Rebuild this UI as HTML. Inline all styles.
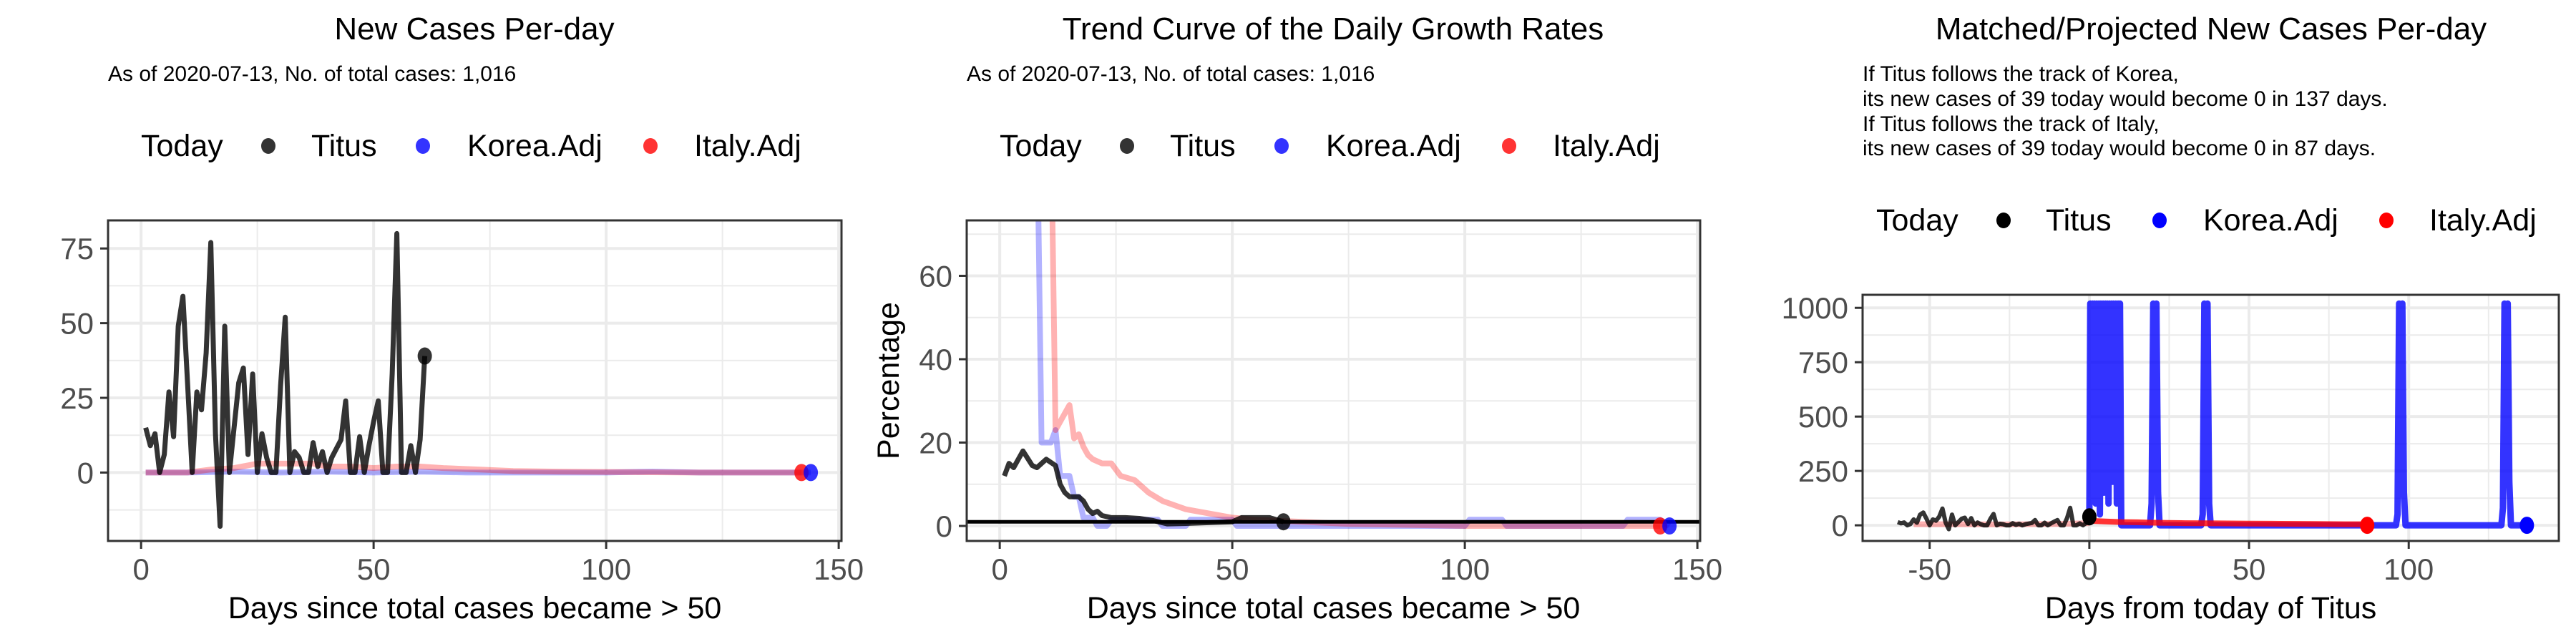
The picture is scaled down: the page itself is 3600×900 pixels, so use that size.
<!DOCTYPE html>
<html><head><meta charset="utf-8"><style>
html,body{margin:0;padding:0;background:#fff;}
svg{display:block;font-family:"Liberation Sans",Arial,sans-serif;}
</style></head><body>
<svg id="chart" width="3600" height="900" viewBox="0 0 3600 900" xmlns="http://www.w3.org/2000/svg">
<defs>
<clipPath id="c1"><rect x="151" y="308" width="1025" height="448"/></clipPath>
<clipPath id="c2"><rect x="1351" y="308" width="1025" height="448"/></clipPath>
<clipPath id="c3"><rect x="2603" y="412" width="973" height="344"/></clipPath>
</defs>
<text x="663" y="55" font-size="44" text-anchor="middle">New Cases Per-day</text>
<text x="151" y="113" font-size="30">As of 2020-07-13, No. of total cases: 1,016</text>
<text x="1863" y="55" font-size="44" text-anchor="middle">Trend Curve of the Daily Growth Rates</text>
<text x="1351" y="113" font-size="30">As of 2020-07-13, No. of total cases: 1,016</text>
<text x="3090" y="55" font-size="44" text-anchor="middle">Matched/Projected New Cases Per-day</text>
<g font-size="30">
<text x="2603" y="113">If Titus follows the track of Korea,</text>
<text x="2603" y="148">its new cases of 39 today would become 0 in 137 days.</text>
<text x="2603" y="183">If Titus follows the track of Italy,</text>
<text x="2603" y="217">its new cases of 39 today would become 0 in 87 days.</text>
</g>
<g id="layer"></g>
</svg>
<script>
// ---------- data ----------
const titusNew = [15,9,13,0,6,27,12,49,59,30,0,27,21,40,77,13,-18,49,0,15,30,35,6,33,0,13,5,0,0,29,52,0,7,5,0,0,10,2,7,0,5,8,11,24,0,0,12,0,9,17,24,0,0,33,80,0,0,9,0,11,39];
const koreaAdjDays = [1,10,20,30,40,50,60,70,80,90,100,110,120,130,144];
const koreaAdjVals = [0,0,0.3,0,0.3,0,0.3,0,0,0,0,0.3,0,0,0];
const italyAdjDays = [1,10,15,20,25,30,37,40,45,50,55,60,65,73,80,90,100,120,142];
const italyAdjVals = [0,0,1,1.5,3,3,3,2,2,1.5,2,2,1.5,1,0.5,0.3,0.2,0,0];

const titusRateDays = [1,2,3,5,7,8,10,12,13,14,15,17,18,19,20,21,22,24,27,30,33,36,40,45,50,52,55,58,61];
const titusRateVals = [12,15,14,18,14.5,14,16,14.5,10,8,7,7,6,4,3,3.5,2.5,2,2,1.8,1.3,0.5,0.6,0.8,1,2,2,2,1];
const koreaRateDays = [1,8,9,11,12,13,15,16,17,18,20,21,23,24,34,35,40,41,50,51,100,101,108,109,134,135,142,144];
const koreaRateVals = [100,100,20,20,23,12,12,7,7,2,2,0,0,1.5,1.5,0,0,1.5,1.5,0,0,1.5,1.5,0,0,1.5,1.5,0];
const italyRateDays = [1,11,12,15,16,17,18,19,20,22,24,26,29,32,35,40,45,50,55,65,75,100,142];
const italyRateVals = [100,100,23,29,21,22,19,17,16,15,15,12,11,8,6,4,3,2,1.5,1,0.5,0,0];
const refRate = 1;

const koreaProjDays = [0,0.3,0.6,1,1.3,1.6,2,2.3,2.6,3,3.3,3.6,4,4.3,4.6,5,5.3,5.6,6,6.3,6.6,7,7.3,7.6,8,8.3,8.6,9,9.3,9.6,10,11,19,19.5,20,20.5,21,21.5,22,23,35,35.5,36,36.5,37,37.5,38,39,96,96.5,97,97.5,98,98.5,99,100,129,129.5,130,130.5,131,131.5,132,133,137];
const koreaProjVals = [30,1020,150,1020,300,1020,100,1020,200,1020,50,1020,400,1020,150,1020,600,1020,100,1020,300,1020,200,1020,700,1020,100,1020,250,1020,0,0,0,100,1020,200,1020,150,0,0,0,50,1020,300,1020,100,0,0,0,50,1020,250,1020,150,0,0,0,80,1020,250,1020,200,0,0,0];
const italyProjDays = [0,1,5,10,15,20,30,40,50,60,70,80,86,87];
const italyProjVals = [35,20,18,15,14,12,10,9,8,7,6,5,5,0];
const italyHistDays = [-55,-40,-30,-20,-10,0];
const italyHistVals = [5,5,4,5,6,10];

const xTicks12 = [0,50,100,150];
const yTicks1 = [0,25,50,75];
const yTicks2 = [0,20,40,60];
const xTicks3 = [-50,0,50,100];
const yTicks3 = [0,250,500,750,1000];

// ---------- helpers ----------
const NS = "http://www.w3.org/2000/svg";
const layer = document.getElementById('layer');
function mk(tag, attrs, parent) {
  const e = document.createElementNS(NS, tag);
  for (const k in attrs) e.setAttribute(k, attrs[k]);
  (parent || layer).appendChild(e);
  return e;
}
function scale(d0, d1, r0, r1) { return v => r0 + (v - d0) / (d1 - d0) * (r1 - r0); }

function panel(p) {
  const g = mk('g', {});
  
  
  const sx = scale(p.xd[0], p.xd[1], p.L, p.R);
  const sy = scale(p.yd[0], p.yd[1], p.B, p.T);
  p.xMinor.forEach(v => { const l = mk('line', {x1: sx(v), x2: sx(v), y1: p.T, y2: p.B, stroke: '#EBEBEB', 'stroke-width': 2}, g);   });
  p.yMinor.forEach(v => { const l = mk('line', {x1: p.L, x2: p.R, y1: sy(v), y2: sy(v), stroke: '#EBEBEB', 'stroke-width': 2}, g);   });
  p.xTicks.forEach(v => {
    const l = mk('line', {x1: sx(v), x2: sx(v), y1: p.T, y2: p.B, stroke: '#EBEBEB', 'stroke-width': 4}, g);
     
    const t = mk('line', {x1: sx(v), x2: sx(v), y1: p.B, y2: p.B + 11, stroke: '#333', 'stroke-width': 3}, g);
     
    const tx = mk('text', {x: sx(v), y: p.B + 54, 'font-size': 42, fill: '#4D4D4D', 'text-anchor': 'middle'}, g);
    tx.textContent = v;
     
  });
  p.yTicks.forEach(v => {
    const l = mk('line', {x1: p.L, x2: p.R, y1: sy(v), y2: sy(v), stroke: '#EBEBEB', 'stroke-width': 4}, g);
     
    const t = mk('line', {x1: p.L - 11, x2: p.L, y1: sy(v), y2: sy(v), stroke: '#333', 'stroke-width': 3}, g);
     
    const tx = mk('text', {x: p.L - 20, y: sy(v) + 15, 'font-size': 42, fill: '#4D4D4D', 'text-anchor': 'end'}, g);
    tx.textContent = v;
     
  });
  const cg = mk('g', {'clip-path': 'url(#' + p.clip + ')'}, g);
   
  p.series.forEach(s => {
    const d = s.xs.map((x, i) => (i ? 'L' : 'M') + sx(x).toFixed(1) + ',' + sy(s.ys[i]).toFixed(1)).join('');
    const path = mk('path', {d: d, fill: 'none', stroke: s.color, 'stroke-opacity': s.op, 'stroke-width': s.w, 'stroke-linejoin': 'round'}, cg);
    
    
  });
  if (p.hline !== undefined) {
    const h = mk('line', {x1: p.L, x2: p.R, y1: sy(p.hline), y2: sy(p.hline), stroke: '#000', 'stroke-width': 5}, cg);
     
  }
  p.dots.forEach(dt => {
    const c = mk('ellipse', {cx: sx(dt.x), cy: sy(dt.y), rx: 10, ry: 12, fill: dt.color, 'fill-opacity': dt.op}, cg);
    
    
  });
  const border = mk('rect', {x: p.L, y: p.T, width: p.R - p.L, height: p.B - p.T, fill: 'none', stroke: '#333', 'stroke-width': 3}, g);
   
  const xt = mk('text', {x: (p.L + p.R) / 2, y: 864, 'font-size': 43, 'text-anchor': 'middle'}, g);
  xt.textContent = p.xTitle;
   
  if (p.yTitle) {
    const yt = mk('text', {x: 0, y: 0, 'font-size': 43, 'text-anchor': 'middle', transform: 'translate(1256,' + ((p.T + p.B) / 2) + ') rotate(-90)'}, g);
    yt.textContent = p.yTitle;
     
  }
  const lg = mk('g', {}, g);
   
  const lt = p.legend;
  const t0 = mk('text', {x: lt.x[0], y: lt.y + 14, 'font-size': 43}, lg);
  t0.textContent = 'Today';
   
  ['Titus', 'Korea.Adj', 'Italy.Adj'].forEach((lab, i) => {
    const c = mk('ellipse', {cx: lt.dx[i], cy: lt.y, rx: 10, ry: 11, fill: lt.colors[i]}, lg);
    
    
    const t = mk('text', {x: lt.x[i + 1], y: lt.y + 14, 'font-size': 43}, lg);
    t.textContent = lab;
    
    
  });
}

const titusDays = titusNew.map((v, i) => i + 1);
const titusRel = titusNew.map((v, i) => i + 1 - titusNew.length);
const lc12 = ['#333333', '#3333FF', '#FF3333'];

panel({name: 'panel-new-cases', clip: 'c1', L: 151, R: 1176, T: 308, B: 756, xd: [-7.1, 150.6], yd: [-22.9, 84.4],
  xTicks: xTicks12, xMinor: [25, 75, 125], yTicks: yTicks1, yMinor: [-12.5, 12.5, 37.5, 62.5],
  series: [
    {name: 'line-korea-adj', xs: koreaAdjDays, ys: koreaAdjVals, color: '#0000FF', op: 0.3, w: 8},
    {name: 'line-italy-adj', xs: italyAdjDays, ys: italyAdjVals, color: '#FF0000', op: 0.3, w: 8},
    {name: 'line-titus', xs: titusDays, ys: titusNew, color: '#000', op: 0.8, w: 7}],
  dots: [{name: 'dot-titus-today', x: 61, y: 39, color: '#000', op: 0.8},
         {name: 'dot-italy-today', x: 142, y: 0, color: '#FF0000', op: 0.8},
         {name: 'dot-korea-today', x: 144, y: 0, color: '#0000FF', op: 0.8}],
  xTitle: 'Days since total cases became > 50',
  legend: {y: 204, x: [197, 435, 653, 970], dx: [375, 591, 909], colors: lc12}});

panel({name: 'panel-growth-rates', clip: 'c2', L: 1351, R: 2376, T: 308, B: 756, xd: [-7.1, 150.6], yd: [-3.6, 73.3],
  xTicks: xTicks12, xMinor: [25, 75, 125], yTicks: yTicks2, yMinor: [10, 30, 50, 70],
  series: [
    {name: 'line-korea-rate', xs: koreaRateDays, ys: koreaRateVals, color: '#0000FF', op: 0.3, w: 8},
    {name: 'line-italy-rate', xs: italyRateDays, ys: italyRateVals, color: '#FF0000', op: 0.3, w: 8},
    {name: 'line-titus-rate', xs: titusRateDays, ys: titusRateVals, color: '#000', op: 0.8, w: 7}],
  hline: refRate,
  dots: [{name: 'dot-titus-today', x: 61, y: 1, color: '#000', op: 0.8},
         {name: 'dot-italy-today', x: 142, y: 0, color: '#FF0000', op: 0.8},
         {name: 'dot-korea-today', x: 144, y: 0, color: '#0000FF', op: 0.8}],
  xTitle: 'Days since total cases became > 50', yTitle: 'Percentage',
  legend: {y: 204, x: [1397, 1635, 1853, 2170], dx: [1575, 1791, 2109], colors: lc12}});

panel({name: 'panel-projected', clip: 'c3', L: 2603, R: 3576, T: 412, B: 756, xd: [-71, 147], yd: [-72, 1060],
  xTicks: xTicks3, xMinor: [-25, 25, 75, 125], yTicks: yTicks3, yMinor: [125, 375, 625, 875],
  series: [
    {name: 'line-italy-history', xs: italyHistDays, ys: italyHistVals, color: '#FF0000', op: 0.3, w: 8},
    {name: 'line-titus', xs: titusRel, ys: titusNew, color: '#000', op: 0.8, w: 6},
    {name: 'line-korea-projected', xs: koreaProjDays, ys: koreaProjVals, color: '#0000FF', op: 0.8, w: 9},
    {name: 'line-italy-projected', xs: italyProjDays, ys: italyProjVals, color: '#FF0000', op: 0.8, w: 8}],
  dots: [{name: 'dot-titus-today', x: 0, y: 39, color: '#000', op: 1},
         {name: 'dot-italy-end', x: 87, y: 0, color: '#FF0000', op: 1},
         {name: 'dot-korea-end', x: 137, y: 0, color: '#0000FF', op: 1}],
  xTitle: 'Days from today of Titus',
  legend: {y: 308, x: [2622, 2859, 3079, 3395], dx: [2800, 3018, 3335], colors: ['#000', '#0000FF', '#FF0000']}});
</script>
</body></html>
